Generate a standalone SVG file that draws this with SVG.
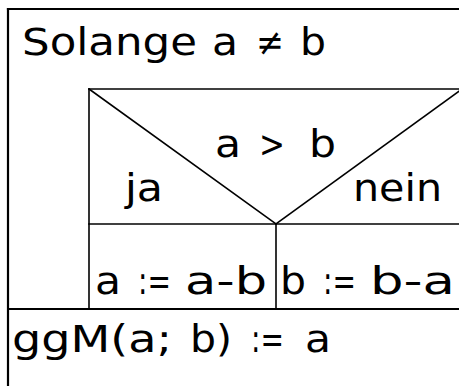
<svg xmlns="http://www.w3.org/2000/svg" width="459" height="386" viewBox="0 0 459 386">
<style>
.ln{stroke:#000;fill:none;stroke-linecap:square}
.t{font-family:"DejaVu Sans","Liberation Sans",sans-serif;font-size:37px;fill:#000}
</style>
<rect width="459" height="386" fill="#fff"/>
<g id="connectors">
<line class="ln" x1="8" y1="9" x2="460" y2="9" stroke-width="2.2"/>
<line class="ln" x1="8" y1="9" x2="8" y2="390" stroke-width="2.2"/>
<line class="ln" x1="8" y1="309" x2="460" y2="309" stroke-width="2"/>
</g>
<g id="loop">
<text class="t" x="22" y="55" textLength="175" lengthAdjust="spacingAndGlyphs">Solange</text>
<text class="t" x="212" y="55" textLength="26" lengthAdjust="spacingAndGlyphs">a</text>
<text class="t" x="256" y="55" textLength="28" lengthAdjust="spacingAndGlyphs">≠</text>
<text class="t" x="300" y="55" textLength="26" lengthAdjust="spacingAndGlyphs">b</text>
</g>
<g id="condition">
<line class="ln" x1="89" y1="89" x2="460" y2="89" stroke-width="1.6"/>
<line class="ln" x1="89" y1="89" x2="89" y2="309" stroke-width="1.6"/>
<line class="ln" x1="89" y1="224" x2="460" y2="224" stroke-width="1.6"/>
<line class="ln" x1="89" y1="89" x2="276" y2="224" stroke-width="1.6"/>
<line class="ln" x1="276" y1="224" x2="462" y2="89" stroke-width="1.6"/>
<text class="t" x="215" y="157" textLength="26" lengthAdjust="spacingAndGlyphs">a</text>
<text class="t" x="259" y="157" textLength="26" lengthAdjust="spacingAndGlyphs">&gt;</text>
<text class="t" x="309" y="157" textLength="27" lengthAdjust="spacingAndGlyphs">b</text>
<text class="t" x="125" y="201" textLength="38" lengthAdjust="spacingAndGlyphs">ja</text>
<text class="t" x="353" y="201" textLength="89" lengthAdjust="spacingAndGlyphs">nein</text>
</g>
<g id="yes">
<line class="ln" x1="276" y1="224" x2="276" y2="309" stroke-width="1.6"/>
<text class="t" x="95" y="294" textLength="26" lengthAdjust="spacingAndGlyphs">a</text>
<text class="t" x="138" y="294" textLength="33" lengthAdjust="spacingAndGlyphs">:=</text>
<text class="t" x="185" y="294" textLength="82" lengthAdjust="spacingAndGlyphs">a-b</text>
</g>
<g id="no">
<text class="t" x="280" y="294" textLength="26" lengthAdjust="spacingAndGlyphs">b</text>
<text class="t" x="323" y="294" textLength="33" lengthAdjust="spacingAndGlyphs">:=</text>
<text class="t" x="370" y="294" textLength="85" lengthAdjust="spacingAndGlyphs">b-a</text>
</g>
<g id="result">
<text class="t" x="12" y="352" textLength="160" lengthAdjust="spacingAndGlyphs">ggM(a;</text>
<text class="t" x="190" y="352" textLength="42" lengthAdjust="spacingAndGlyphs">b)</text>
<text class="t" x="251" y="352" textLength="33" lengthAdjust="spacingAndGlyphs">:=</text>
<text class="t" x="305" y="352" textLength="26" lengthAdjust="spacingAndGlyphs">a</text>
</g>
</svg>
